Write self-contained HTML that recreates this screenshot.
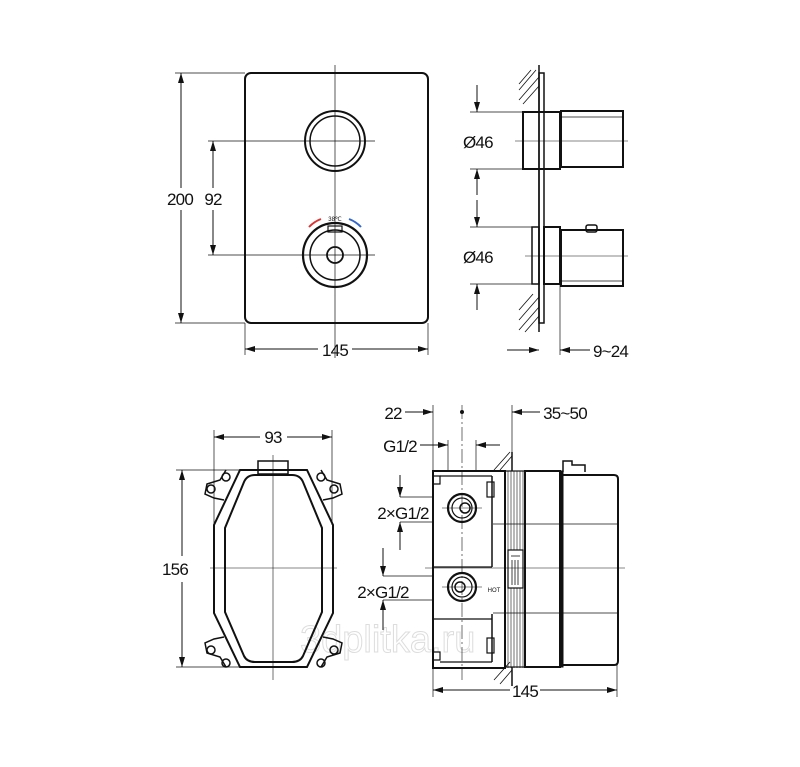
<!DOCTYPE html>
<html><head><meta charset="utf-8"><style>
html,body{margin:0;padding:0;background:#fff;}
svg{display:block;}
text{font-family:"Liberation Sans",sans-serif;fill:#111;}
</style></head><body>
<svg width="800" height="767" viewBox="0 0 800 767" xmlns="http://www.w3.org/2000/svg">
<defs>
<marker id="a" viewBox="0 0 10 6" refX="10" refY="3" markerWidth="10" markerHeight="6" orient="auto-start-reverse" markerUnits="userSpaceOnUse"><path d="M0,0 L10,3 L0,6 z" fill="#111"/></marker>
</defs>
<text x="300" y="652" font-size="38" style="fill:#fff;stroke:#ddd;stroke-width:1">3dplitka.ru</text>
<g stroke="#111" fill="none" stroke-width="1">
<!-- TOP LEFT front view -->
<rect x="245" y="73" width="183" height="250" rx="6" stroke-width="2"/>
<line x1="335" y1="65" x2="335" y2="358" stroke-width="0.7"/>
<line x1="208" y1="141" x2="375" y2="141" stroke-width="0.7"/>
<line x1="208" y1="255" x2="375" y2="255" stroke-width="0.7"/>
<circle cx="335" cy="141" r="30" stroke-width="2"/>
<circle cx="335" cy="141" r="25" stroke-width="1.5"/>
<circle cx="335" cy="255" r="32" stroke-width="2.2"/>
<circle cx="335" cy="255" r="25" stroke-width="1.5"/>
<circle cx="335" cy="255" r="8" stroke-width="1.8"/>
<rect x="328" y="226" width="14" height="6" stroke-width="1.2"/>
<path d="M309,227 A32,32 0 0 1 321,219" stroke="#d33" stroke-width="2"/>
<path d="M349,219 A32,32 0 0 1 361,227" stroke="#36c" stroke-width="2"/>
<line x1="175" y1="73" x2="245" y2="73" stroke-width="0.7"/>
<line x1="175" y1="323" x2="245" y2="323" stroke-width="0.7"/>
<line x1="181" y1="73" x2="181" y2="188" marker-start="url(#a)"/>
<line x1="181" y1="210" x2="181" y2="323" marker-end="url(#a)"/>
<line x1="213" y1="141" x2="213" y2="188" marker-start="url(#a)"/>
<line x1="213" y1="210" x2="213" y2="255" marker-end="url(#a)"/>
<line x1="245" y1="323" x2="245" y2="355" stroke-width="0.7"/>
<line x1="428" y1="323" x2="428" y2="355" stroke-width="0.7"/>
<line x1="245" y1="349" x2="318" y2="349" marker-start="url(#a)"/>
<line x1="352" y1="349" x2="428" y2="349" marker-end="url(#a)"/>

<!-- TOP RIGHT side view -->
<line x1="539" y1="65" x2="539" y2="332" stroke-width="1.5"/>
<rect x="539" y="73" width="5" height="250" stroke-width="1.5"/>
<g stroke-width="0.8">
<line x1="519" y1="90" x2="536" y2="70"/><line x1="519" y1="100" x2="539" y2="77"/><line x1="523" y1="104" x2="539" y2="86"/><line x1="519" y1="84" x2="531" y2="70"/>
<line x1="519" y1="320" x2="539" y2="297"/><line x1="519" y1="330" x2="539" y2="307"/><line x1="519" y1="310" x2="533" y2="294"/><line x1="525" y1="332" x2="539" y2="316"/>
</g>
<rect x="523" y="112" width="37" height="57" stroke-width="2"/>
<rect x="561" y="111" width="62" height="56" stroke-width="2"/>
<line x1="561" y1="117" x2="623" y2="117" stroke-width="0.8"/>
<rect x="532" y="227" width="7" height="57" stroke-width="1.5"/>
<rect x="544" y="227" width="16" height="57" stroke-width="2"/>
<rect x="561" y="230" width="62" height="56" stroke-width="2"/>
<line x1="561" y1="281" x2="623" y2="281" stroke-width="0.8"/>
<rect x="586" y="225" width="11" height="7" rx="2" stroke-width="1.5"/>
<line x1="515" y1="141" x2="628" y2="141" stroke-width="0.6"/>
<line x1="525" y1="256" x2="628" y2="256" stroke-width="0.6"/>
<line x1="470" y1="112" x2="523" y2="112" stroke-width="0.7"/>
<line x1="470" y1="169" x2="523" y2="169" stroke-width="0.7"/>
<line x1="470" y1="227" x2="532" y2="227" stroke-width="0.7"/>
<line x1="470" y1="284" x2="532" y2="284" stroke-width="0.7"/>
<line x1="477" y1="85" x2="477" y2="112" marker-end="url(#a)"/>
<line x1="477" y1="195" x2="477" y2="169" marker-end="url(#a)"/>
<line x1="477" y1="200" x2="477" y2="227" marker-end="url(#a)"/>
<line x1="477" y1="310" x2="477" y2="284" marker-end="url(#a)"/>
<line x1="560" y1="284" x2="560" y2="355" stroke-width="0.7"/>
<line x1="507" y1="350" x2="539" y2="350" marker-end="url(#a)"/>
<line x1="590" y1="350" x2="560" y2="350" marker-end="url(#a)"/>

<!-- BOTTOM LEFT -->
<line x1="214" y1="430" x2="214" y2="525" stroke-width="0.7"/>
<line x1="332" y1="430" x2="332" y2="525" stroke-width="0.7"/>
<line x1="214" y1="437" x2="260" y2="437" marker-start="url(#a)"/>
<line x1="287" y1="437" x2="332" y2="437" marker-end="url(#a)"/>
<line x1="176" y1="470" x2="250" y2="470" stroke-width="0.7"/>
<line x1="176" y1="667" x2="250" y2="667" stroke-width="0.7"/>
<line x1="182" y1="470" x2="182" y2="556" marker-start="url(#a)"/>
<line x1="182" y1="582" x2="182" y2="667" marker-end="url(#a)"/>
<path d="M240,470 L307,470 L333,525 L333,613 L307,667 L240,667 L214,613 L214,525 Z" stroke-width="2"/>
<path d="M255,475 L292,475 Q300,475 303,482 L322,528 L322,612 L303,656 Q300,662 292,662 L255,662 Q247,662 244,656 L225,612 L225,528 L244,482 Q247,475 255,475 Z" stroke-width="2"/>
<rect x="258" y="461" width="30" height="13" stroke-width="1.5"/>
<line x1="273" y1="455" x2="273" y2="680" stroke-width="0.6"/>
<line x1="210" y1="568" x2="337" y2="568" stroke-width="0.6"/>
<g stroke-width="1.5">
<path d="M226,470 L220,480 L207,484 L205,494 L214,498 L224,500"/>
<path d="M321,470 L327,480 L340,484 L342,494 L333,498 L323,500"/>
<path d="M226,667 L220,657 L207,653 L205,643 L214,639 L224,637"/>
<path d="M321,667 L327,657 L340,653 L342,643 L333,639 L323,637"/>
<circle cx="226" cy="477" r="4"/><circle cx="211" cy="489" r="4"/><circle cx="321" cy="477" r="4"/><circle cx="334" cy="489" r="4"/>
<circle cx="211" cy="650" r="4"/><circle cx="226" cy="663" r="4"/><circle cx="334" cy="650" r="4"/><circle cx="321" cy="663" r="4"/>
</g>

<!-- BOTTOM RIGHT -->
<line x1="433" y1="405" x2="433" y2="471" stroke-width="0.7"/>
<line x1="512" y1="405" x2="512" y2="460" stroke-width="0.7"/>
<line x1="462" y1="405" x2="462" y2="680" stroke-width="0.6" stroke-dasharray="14,3,2,3"/>
<line x1="405" y1="412" x2="433" y2="412" marker-end="url(#a)"/>
<line x1="540" y1="412" x2="512" y2="412" marker-end="url(#a)"/>
<circle cx="462" cy="412" r="1.5" fill="#111"/>
<line x1="448" y1="440" x2="448" y2="470" stroke-width="0.7"/>
<line x1="476" y1="440" x2="476" y2="470" stroke-width="0.7"/>
<line x1="420" y1="445" x2="448" y2="445" marker-end="url(#a)"/>
<line x1="500" y1="445" x2="476" y2="445" marker-end="url(#a)"/>
<g stroke-width="0.8">
<line x1="494" y1="470" x2="510" y2="452"/><line x1="500" y1="470" x2="512" y2="456"/>
<line x1="494" y1="680" x2="510" y2="662"/><line x1="500" y1="684" x2="512" y2="670"/>
</g>
<line x1="512" y1="452" x2="512" y2="471" stroke-width="1.5"/>
<line x1="512" y1="667" x2="512" y2="686" stroke-width="1.5"/>
<rect x="433" y="471" width="72" height="197" stroke-width="2"/>
<path d="M433,476 L440,476 L440,484 L433,484" stroke-width="1.2"/>
<path d="M433,660 L440,660 L440,652 L433,652" stroke-width="1.2"/>
<line x1="440" y1="476" x2="492" y2="476" stroke-width="1.2"/>
<line x1="492" y1="476" x2="492" y2="567" stroke-width="1.5"/>
<line x1="433" y1="567" x2="492" y2="567" stroke-width="1.2"/>
<line x1="433" y1="619" x2="492" y2="619" stroke-width="1.2"/>
<line x1="492" y1="614" x2="492" y2="662" stroke-width="1.5"/>
<line x1="440" y1="662" x2="492" y2="662" stroke-width="1.2"/>
<rect x="487" y="482" width="7" height="15" stroke-width="1.2"/>
<rect x="487" y="638" width="7" height="15" stroke-width="1.2"/>
<g stroke-width="0.6"><line x1="508" y1="471" x2="508" y2="668"/><line x1="511" y1="471" x2="511" y2="668"/><line x1="514" y1="471" x2="514" y2="668"/><line x1="517" y1="471" x2="517" y2="668"/><line x1="520" y1="471" x2="520" y2="668"/><line x1="523" y1="471" x2="523" y2="668"/></g>
<rect x="505" y="471" width="20" height="196" stroke-width="1.2"/>
<rect x="508" y="550" width="15" height="38" fill="#fff" stroke-width="1.2"/>
<g stroke-width="0.8"><line x1="512" y1="560" x2="512" y2="585"/><line x1="515" y1="560" x2="515" y2="585"/><line x1="518" y1="560" x2="518" y2="585"/><line x1="511" y1="556" x2="520" y2="556"/></g>
<rect x="525" y="471" width="35" height="196" stroke-width="2"/>
<rect x="560" y="471" width="3" height="196" fill="#111" stroke-width="1"/>
<path d="M563,475 L614,475 Q618,475 618,479 L618,661 Q618,665 614,665 L563,665" stroke-width="2"/>
<path d="M563,472 L563,461 L572,461 L572,465 L585,465 L585,472" stroke-width="1.5"/>
<line x1="493" y1="524" x2="617" y2="524" stroke-width="0.8"/>
<line x1="493" y1="613" x2="617" y2="613" stroke-width="0.8"/>
<line x1="425" y1="568" x2="625" y2="568" stroke-width="0.6"/>
<circle cx="462" cy="508" r="14" stroke-width="2.2"/><circle cx="462" cy="508" r="10" stroke-width="1.2"/><circle cx="465" cy="508" r="5" stroke-width="1.5"/>
<circle cx="462" cy="587" r="14" stroke-width="2.2"/><circle cx="462" cy="587" r="10" stroke-width="1.2"/><circle cx="460" cy="587" r="5" stroke-width="1.5"/>
<line x1="442" y1="508" x2="482" y2="508" stroke-width="0.6"/><line x1="442" y1="587" x2="482" y2="587" stroke-width="0.6"/>
<line x1="400" y1="497" x2="433" y2="497" stroke-width="0.7"/>
<line x1="400" y1="522" x2="433" y2="522" stroke-width="0.7"/>
<line x1="400" y1="475" x2="400" y2="497" marker-end="url(#a)"/>
<line x1="400" y1="550" x2="400" y2="522" marker-end="url(#a)"/>
<line x1="383" y1="576" x2="433" y2="576" stroke-width="0.7"/>
<line x1="383" y1="600" x2="433" y2="600" stroke-width="0.7"/>
<line x1="383" y1="548" x2="383" y2="576" marker-end="url(#a)"/>
<line x1="383" y1="630" x2="383" y2="600" marker-end="url(#a)"/>
<line x1="433" y1="668" x2="433" y2="697" stroke-width="0.7"/>
<line x1="617" y1="665" x2="617" y2="697" stroke-width="0.7"/>
<line x1="433" y1="690" x2="510" y2="690" marker-start="url(#a)"/>
<line x1="540" y1="690" x2="617" y2="690" marker-end="url(#a)"/>
</g>
<g font-size="17" letter-spacing="-0.8">
<text x="180" y="205" text-anchor="middle">200</text>
<text x="213" y="205" text-anchor="middle">92</text>
<text x="335" y="356" text-anchor="middle">145</text>
<text x="463" y="148">Ø46</text>
<text x="463" y="263">Ø46</text>
<text x="593" y="357">9~24</text>
<text x="273" y="443" text-anchor="middle">93</text>
<text x="175" y="575" text-anchor="middle">156</text>
<text x="393" y="419" text-anchor="middle">22</text>
<text x="565" y="419" text-anchor="middle">35~50</text>
<text x="400" y="452" text-anchor="middle">G1/2</text>
<text x="403" y="519" text-anchor="middle">2×G1/2</text>
<text x="383" y="598" text-anchor="middle">2×G1/2</text>
<text x="525" y="697" text-anchor="middle">145</text>
</g>
<text x="335" y="221" font-size="6" text-anchor="middle">38℃</text>
<text x="494" y="592" font-size="6" text-anchor="middle">HOT</text>
</svg>
</body></html>
